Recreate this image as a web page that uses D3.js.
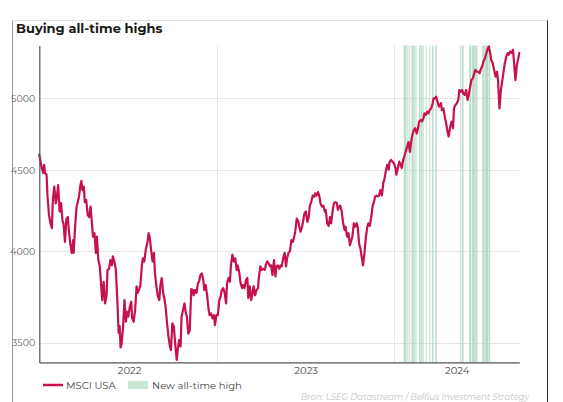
<!DOCTYPE html>
<html><head><meta charset="utf-8">
<script src="https://cdn.jsdelivr.net/npm/d3@7"></script>
<style>body{margin:0;background:#fff} svg{display:block}</style>
</head><body><svg id="c" width="563" height="402"></svg>
<script>
const title = "Buying all-time highs";
const seriesName = "MSCI USA";
const athName = "New all-time high";
const sourceText = "Bron: LSEG Datastream / Belfius Investment Strategy";
const yTicks = [3500, 4000, 4500, 5000];
const yearLabels = ["2022", "2023", "2024"];

const dates = [
"2021-12-29","2021-12-31","2022-01-03","2022-01-06","2022-01-08","2022-01-10","2022-01-13","2022-01-15","2022-01-18","2022-01-21","2022-01-24","2022-01-26","2022-01-29",
"2022-02-01","2022-02-03","2022-02-06","2022-02-09","2022-02-12","2022-02-15","2022-02-17","2022-02-20","2022-02-23","2022-02-26","2022-02-28",
"2022-03-03","2022-03-06","2022-03-09","2022-03-10","2022-03-13","2022-03-16","2022-03-18","2022-03-21","2022-03-24","2022-03-26","2022-03-28","2022-03-31",
"2022-04-02","2022-04-05","2022-04-08","2022-04-11","2022-04-14","2022-04-16","2022-04-19","2022-04-22","2022-04-25","2022-04-27","2022-04-30",
"2022-05-03","2022-05-06","2022-05-08","2022-05-11","2022-05-14","2022-05-17","2022-05-19","2022-05-22","2022-05-25","2022-05-28","2022-05-30",
"2022-06-02","2022-06-05","2022-06-08","2022-06-11","2022-06-13","2022-06-15","2022-06-17","2022-06-20","2022-06-23","2022-06-26","2022-06-28",
"2022-07-01","2022-07-04","2022-07-07","2022-07-09","2022-07-12","2022-07-15","2022-07-18","2022-07-20","2022-07-23","2022-07-26","2022-07-29","2022-07-31",
"2022-08-03","2022-08-06","2022-08-09","2022-08-12","2022-08-14","2022-08-17","2022-08-20","2022-08-23","2022-08-25","2022-08-28","2022-08-31",
"2022-09-03","2022-09-05","2022-09-08","2022-09-11","2022-09-14","2022-09-16","2022-09-19","2022-09-22","2022-09-25","2022-09-27","2022-09-30",
"2022-10-03","2022-10-06","2022-10-09","2022-10-11","2022-10-14","2022-10-17","2022-10-19","2022-10-22","2022-10-25","2022-10-28","2022-10-30",
"2022-11-02","2022-11-05","2022-11-08","2022-11-11","2022-11-13","2022-11-16","2022-11-19","2022-11-22","2022-11-24","2022-11-27","2022-11-30",
"2022-12-03","2022-12-05","2022-12-08","2022-12-11","2022-12-14","2022-12-16","2022-12-19","2022-12-22","2022-12-25","2022-12-27","2022-12-30",
"2023-01-02","2023-01-05","2023-01-08","2023-01-10","2023-01-13","2023-01-16","2023-01-19","2023-01-21","2023-01-24","2023-01-27","2023-01-29",
"2023-02-01","2023-02-04","2023-02-07","2023-02-10","2023-02-12","2023-02-15","2023-02-18","2023-02-21","2023-02-23","2023-02-26",
"2023-03-01","2023-03-04","2023-03-06","2023-03-09","2023-03-12","2023-03-15","2023-03-17","2023-03-20","2023-03-23","2023-03-26","2023-03-28","2023-03-31",
"2023-04-03","2023-04-06","2023-04-09","2023-04-11","2023-04-14","2023-04-17","2023-04-20","2023-04-22","2023-04-25","2023-04-28",
"2023-05-01","2023-05-03","2023-05-06","2023-05-09","2023-05-12","2023-05-14","2023-05-17","2023-05-20","2023-05-23","2023-05-25","2023-05-28","2023-05-31",
"2023-06-03","2023-06-06","2023-06-08","2023-06-11","2023-06-14","2023-06-17","2023-06-19","2023-06-22","2023-06-25","2023-06-27","2023-06-30",
"2023-07-03","2023-07-06","2023-07-09","2023-07-11","2023-07-14","2023-07-17","2023-07-20","2023-07-22","2023-07-25","2023-07-28","2023-07-31",
"2023-08-02","2023-08-05","2023-08-08","2023-08-11","2023-08-13","2023-08-16","2023-08-19","2023-08-22","2023-08-24","2023-08-27","2023-08-30",
"2023-09-02","2023-09-05","2023-09-07","2023-09-10","2023-09-12","2023-09-15","2023-09-18","2023-09-21","2023-09-23","2023-09-26","2023-09-29",
"2023-10-02","2023-10-05","2023-10-07","2023-10-10","2023-10-13","2023-10-16","2023-10-18","2023-10-21","2023-10-24","2023-10-26","2023-10-29",
"2023-11-01","2023-11-04","2023-11-07","2023-11-09","2023-11-12","2023-11-15","2023-11-18","2023-11-20","2023-11-23","2023-11-26","2023-11-29",
"2023-12-01","2023-12-04","2023-12-07","2023-12-10","2023-12-12","2023-12-15","2023-12-18","2023-12-21","2023-12-23","2023-12-26","2023-12-29",
"2024-01-01","2024-01-04","2024-01-06","2024-01-09","2024-01-12","2024-01-15","2024-01-17","2024-01-20","2024-01-23","2024-01-26","2024-01-28","2024-01-31",
"2024-02-03","2024-02-06","2024-02-08","2024-02-11","2024-02-14","2024-02-17","2024-02-19","2024-02-22","2024-02-25","2024-02-28",
"2024-03-02","2024-03-04","2024-03-07","2024-03-10","2024-03-12","2024-03-15","2024-03-18","2024-03-21","2024-03-23","2024-03-26","2024-03-28","2024-03-31",
"2024-04-03","2024-04-07","2024-04-09","2024-04-12","2024-04-15","2024-04-18","2024-04-20","2024-04-23","2024-04-26","2024-04-29",
"2024-05-02","2024-05-04","2024-05-07","2024-05-10","2024-05-13","2024-05-15","2024-05-18","2024-05-21","2024-05-23","2024-05-26","2024-05-29",
"2024-06-01","2024-06-04","2024-06-07","2024-06-09","2024-06-12","2024-06-15","2024-06-17","2024-06-20","2024-06-23","2024-06-26","2024-06-29",
"2024-07-01","2024-07-04","2024-07-07","2024-07-09","2024-07-12","2024-07-15","2024-07-18","2024-07-20","2024-07-23","2024-07-26","2024-07-29",
"2024-08-01","2024-08-03","2024-08-06","2024-08-09","2024-08-12","2024-08-14","2024-08-17","2024-08-20","2024-08-23","2024-08-25","2024-08-28","2024-08-31",
"2024-09-03","2024-09-05","2024-09-08","2024-09-11","2024-09-14","2024-09-16"
];

const values = [
4605,4569,4516,4483,4537,4483,4472,4331,4217,4166,4136,4310,4395,
4289,4318,4405,4238,4290,4180,4166,4054,4194,4204,4125,
4044,3990,4065,3990,4145,4268,4290,4331,4405,4432,4373,4395,
4297,4310,4217,4204,4268,4194,4085,4106,3990,4085,3948,
3912,3800,3724,3825,3706,3750,3891,3898,3948,3918,3970,
3940,3898,3740,3550,3585,3475,3490,3577,3724,3608,3662,
3635,3688,3715,3626,3608,3670,3800,3763,3780,3806,3918,3958,
3940,4009,4044,4106,4085,4009,3940,3990,3872,3800,3745,
3724,3800,3846,3763,3724,3688,3600,3530,3480,3462,3600,
3582,3490,3412,3462,3513,3480,3635,3670,3706,3652,3635,
3546,3564,3784,3779,3750,3779,3763,3817,3825,3863,3872,
3834,3779,3806,3745,3670,3643,3652,3626,3643,3590,3643,
3643,3724,3745,3779,3790,3763,3706,3817,3846,3825,3918,
3979,3940,3958,3891,3918,3880,3817,3790,3806,3790,
3834,3846,3734,3800,3724,3768,3800,3750,3779,3790,3855,3912,
3891,3898,3891,3918,3940,3929,3912,3918,3863,3948,
3855,3912,3918,3898,3918,3912,3958,3990,3912,3958,3990,4000,
4065,4054,4075,4115,4194,4180,4150,4115,4145,4174,4228,
4238,4174,4204,4275,4297,4338,4331,4352,4338,4360,4331,
4290,4268,4275,4238,4248,4166,4150,4204,4166,4238,4290,
4297,4290,4248,4268,4275,4238,4166,4125,4145,4085,4106,
4034,4065,4085,4166,4145,4166,4145,4044,4009,3970,3918,
3990,4085,4145,4166,4150,4204,4275,4290,4331,4338,4333,
4338,4373,4338,4420,4438,4494,4537,4505,4558,4569,4558,
4548,4516,4472,4516,4558,4537,4516,4569,4601,4636,4656,4690,
4624,4705,4740,4774,4786,4750,4774,4833,4844,4833,
4857,4892,4880,4903,4892,4915,4927,4964,5000,5000,5012,4975,
4939,4964,4915,4927,4867,4818,4774,4729,4795,4833,
4786,4927,4952,4964,4988,5061,5048,5061,5036,5024,5061,
4988,5036,5097,5135,5148,5186,5211,5198,5198,5186,5224,
5237,5276,5302,5328,5367,5393,5341,5288,5263,5211,5160,
5198,5135,4927,5061,5135,5186,5263,5311,5341,5328,5354,5341,
5367,5276,5135,5250,5302,5341
];

const athDates = [
"2024-01-22","2024-01-23","2024-01-24","2024-01-25","2024-01-29",
"2024-02-02","2024-02-07","2024-02-08","2024-02-09","2024-02-12","2024-02-15",
"2024-02-22","2024-02-23","2024-02-26","2024-02-27",
"2024-03-01","2024-03-07","2024-03-14","2024-03-20","2024-03-21","2024-03-27","2024-03-28",
"2024-05-17","2024-05-21","2024-05-22",
"2024-06-05","2024-06-06","2024-06-07","2024-06-11","2024-06-12","2024-06-13","2024-06-14","2024-06-17","2024-06-18","2024-06-20",
"2024-07-02","2024-07-03","2024-07-05","2024-07-08","2024-07-09","2024-07-10","2024-07-11","2024-07-12","2024-07-15","2024-07-16"
];

const parse = d3.timeParse("%Y-%m-%d");
const data = dates.map((d, i) => ({ date: parse(d), value: values[i] }));
const athData = athDates.map(parse);

const svg = d3.select("#c");
const font = "Montserrat, 'Open Sans', 'DejaVu Sans', sans-serif";
const lineColor = "#c8104b";
const bandColor = "#a9d6bd";

const plotL = 39.3, plotR = 519.3, plotT = 45.6, plotB = 362.4;
const x = d3.scaleTime().domain([data[0].date, data[data.length - 1].date]).range([plotL, plotR]);
const y = d3.scaleLog().domain([3400, 5400]).range([plotB, plotT]);

// frame
svg.append("line").attr("x1", 12.5).attr("x2", 12.5).attr("y1", 20.5).attr("y2", 402).attr("stroke", "#999").attr("stroke-width", 1);
svg.append("line").attr("x1", 12.5).attr("x2", 547.5).attr("y1", 20.5).attr("y2", 20.5).attr("stroke", "#e2e2e2").attr("stroke-width", 1);
svg.append("line").attr("x1", 547.5).attr("x2", 547.5).attr("y1", 20.5).attr("y2", 402).attr("stroke", "#333").attr("stroke-width", 1);

// title
svg.append("text").attr("x", 16).attr("y", 33).text(title)
  .attr("font-family", font).attr("font-size", 13).attr("font-weight", 700).attr("fill", "#1a1a1a");

// grid horizontal
svg.append("g").selectAll("line").data(yTicks).join("line")
  .attr("x1", plotL).attr("x2", plotR)
  .attr("y1", d => Math.round(y(d)) + 0.5).attr("y2", d => Math.round(y(d)) + 0.5)
  .attr("stroke", "#e6e6e6").attr("stroke-width", 1);

// year boundaries
const yearStarts = yearLabels.slice(1).map(s => parse(s + "-01-01"));
svg.append("g").selectAll("line").data(yearStarts).join("line")
  .attr("x1", d => Math.round(x(d)) + 0.5).attr("x2", d => Math.round(x(d)) + 0.5)
  .attr("y1", plotT).attr("y2", plotB)
  .attr("stroke", "#e6e6e6").attr("stroke-width", 1);

// ATH bands
const oneDay = 24 * 3600 * 1000;
svg.append("g").selectAll("rect").data(athData).join("rect")
  .attr("x", d => x(d) - 0.4)
  .attr("width", d => Math.max(1.4, x(new Date(+d + oneDay)) - x(d)))
  .attr("y", plotT).attr("height", plotB - plotT)
  .attr("fill", bandColor).attr("opacity", 0.55);

// line
const line = d3.line().x(d => x(d.date)).y(d => y(d.value));
svg.append("path").datum(data).attr("d", line)
  .attr("fill", "none").attr("stroke", lineColor).attr("stroke-width", 2.2)
  .attr("stroke-linejoin", "round").attr("stroke-linecap", "round");

// y axis
const yAxis = svg.append("g").attr("transform", `translate(${plotL},0)`)
  .call(d3.axisLeft(y).tickValues(yTicks).tickFormat(d3.format("d")).tickSize(0).tickPadding(4));
yAxis.select(".domain").attr("stroke", "#555").attr("stroke-width", 1.2);
yAxis.selectAll("text").attr("font-family", font).attr("font-size", 9.5).attr("fill", "#666");

// x axis: labels centered in each year's visible span
const d0 = x.domain()[0], d1 = x.domain()[1];
const mids = yearLabels.map(s => {
  const a = parse(s + "-01-01"), b = parse((+s + 1) + "-01-01");
  const lo = a < d0 ? d0 : a, hi = b > d1 ? d1 : b;
  return new Date((+lo + +hi) / 2);
});
const xAxis = svg.append("g").attr("transform", `translate(0,${plotB})`)
  .call(d3.axisBottom(x).tickValues(mids).tickFormat((d, i) => yearLabels[i]).tickSize(0).tickPadding(5));
xAxis.select(".domain").attr("stroke", "#555").attr("stroke-width", 1.2);
xAxis.selectAll("text").attr("font-family", font).attr("font-size", 10).attr("fill", "#444");

// legend
const lg = svg.append("g");
lg.append("line").attr("x1", 43).attr("x2", 63).attr("y1", 385).attr("y2", 385).attr("stroke", lineColor).attr("stroke-width", 2.5);
lg.append("text").attr("x", 66).attr("y", 388.5).text(seriesName)
  .attr("font-family", font).attr("font-size", 10).attr("fill", "#444");
lg.append("rect").attr("x", 128).attr("y", 381).attr("width", 20).attr("height", 8).attr("fill", "#c9e6d6");
lg.append("text").attr("x", 152).attr("y", 388.5).text(athName)
  .attr("font-family", font).attr("font-size", 10).attr("fill", "#444");

// source
svg.append("text").attr("x", 529).attr("y", 399.5).attr("text-anchor", "end").text(sourceText)
  .attr("font-family", font).attr("font-size", 8.5).attr("font-style", "italic").attr("fill", "#c4c4c4");
</script>
</body></html>
